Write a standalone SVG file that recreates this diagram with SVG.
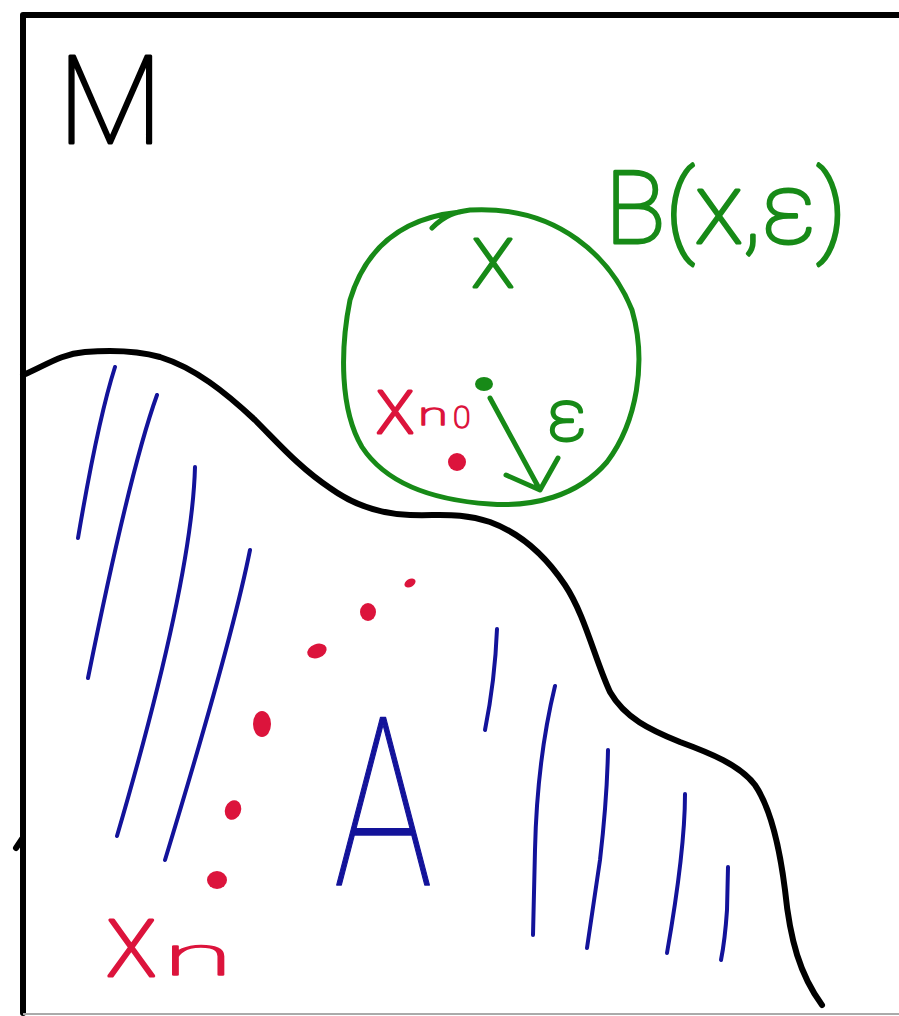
<svg xmlns="http://www.w3.org/2000/svg" width="899" height="1016" viewBox="0 0 899 1016">
<style>
.ink{fill:none;stroke-linecap:round;stroke-linejoin:round}
.blk{stroke:#000;stroke-width:6}
.grn{stroke:#178a17;stroke-width:5}
.blu{stroke:#13139a;stroke-width:4}
.lbl{font-family:Roboto,"Liberation Sans",sans-serif;font-weight:100;stroke-linejoin:round}
.tg{fill:#178a17;stroke:#178a17;stroke-width:3}
.tr{fill:#dc143c;stroke:#dc143c;stroke-width:3}
.tb{fill:#13139a;stroke:#13139a;stroke-width:1.5}
.tk{fill:#000;stroke:#000;stroke-width:3}
.rd{fill:#dc143c}
</style>
<rect width="899" height="1016" fill="#fff"/>
<g id="frame">
<path class="ink blk" d="M23,1013 L23,15 L899,15" stroke-linecap="butt" stroke-width="5"/>
<line x1="23" y1="1014" x2="899" y2="1014" stroke="#aaa" stroke-width="2"/>
<path class="ink blk" d="M16,848 L22,839"/>
</g>
<g id="boundary">
<path class="ink blk" d="M23,375 C45,366 60,354 85,352 C110,350 135,350 160,357 C195,368 225,392 255,420 C280,445 300,468 330,488 C355,506 380,514 410,515 C440,516 460,512 490,522 C520,533 545,555 565,585 C585,615 595,660 610,692 C625,718 650,730 680,742 C710,753 740,765 755,785 C772,810 780,850 785,890 C790,940 800,975 822,1005"/>
</g>
<g id="hatching">
<path class="ink blu" d="M115,367 Q98,420 78,538"/>
<path class="ink blu" d="M157,395 Q130,470 88,678"/>
<path class="ink blu" d="M195,467 Q192,580 117,836"/>
<path class="ink blu" d="M250,550 Q232,640 165,860"/>
<path class="ink blu" d="M497,629 Q495,680 485,730"/>
<path class="ink blu" d="M555,686 Q537,760 535,850 L533,935"/>
<path class="ink blu" d="M608,750 Q607,800 600,860 L587,948"/>
<path class="ink blu" d="M685,794 Q685,850 667,953"/>
<path class="ink blu" d="M728,867 L727,910 Q725,940 721,960"/>
</g>
<g id="ball">
<path class="ink grn" d="M432,228 C445,215 455,212 470,210 C560,205 612,260 632,310 C647,362 637,422 607,462 C577,497 532,507 490,504 C430,500 385,482 362,447 C340,410 340,350 350,300 C365,250 400,218 460,212"/>
<ellipse cx="484" cy="384" rx="9" ry="7" fill="#178a17"/>
<path class="ink grn" stroke-width="6" d="M490,398 L540,490 M506,475 L540,490 L558,458"/>
</g>
<g id="sequence">
<ellipse class="rd" cx="410" cy="583" rx="6" ry="4" transform="rotate(-30 410 583)"/>
<ellipse class="rd" cx="368" cy="612" rx="8" ry="9"/>
<ellipse class="rd" cx="317" cy="651" rx="10" ry="7" transform="rotate(-20 317 651)"/>
<ellipse class="rd" cx="262" cy="724" rx="9" ry="13"/>
<ellipse class="rd" cx="233" cy="810" rx="8" ry="10" transform="rotate(20 233 810)"/>
<ellipse class="rd" cx="217" cy="880" rx="10" ry="9"/>
<circle class="rd" cx="457" cy="462" r="9"/>
</g>
<g id="labels">
<text class="lbl tk" x="58" y="143" font-size="122">M</text>
<text class="lbl tg" x="605" y="243" font-size="100">B(x,ε)</text>
<text class="lbl tg" x="493" y="287" font-size="90" text-anchor="middle">x</text>
<text class="lbl tg" x="567" y="440" font-size="72" text-anchor="middle">ε</text>
<text class="lbl tr" font-size="80"><tspan x="376" y="433">x</tspan><tspan x="418" y="425" font-size="32" textLength="30" lengthAdjust="spacingAndGlyphs" stroke-width="1.5">n</tspan><tspan x="453" y="428" font-size="32" stroke-width="1.5">0</tspan></text>
<text class="lbl tr" font-size="106"><tspan x="106" y="976">x</tspan><tspan x="163" y="975" font-size="55" textLength="70" lengthAdjust="spacingAndGlyphs" stroke-width="1.5">n</tspan></text>
<text class="lbl tb" font-size="235" text-anchor="middle" transform="translate(383,885) scale(0.7,1)">A</text>
</g>
</svg>
